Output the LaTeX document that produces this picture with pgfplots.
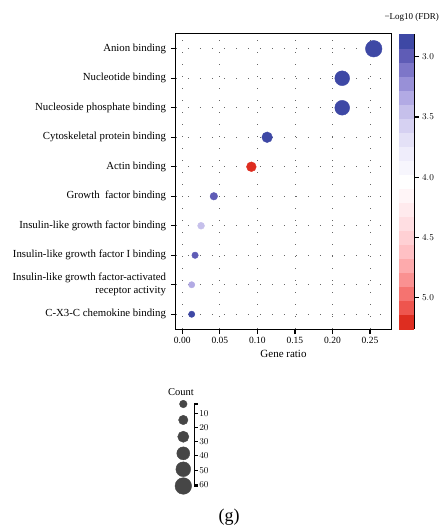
\documentclass[border=0pt]{standalone}
\usepackage{fontspec}
\setmainfont{Liberation Serif}
\usepackage{pgfplots}
\usepackage{pgfplotstable}
\pgfplotsset{compat=1.18}

% GO molecular function terms: row position, gene ratio, -log10(FDR), gene count
\pgfplotstableread{
y ratio fdr count
10 0.255 2.85 60
9 0.213 2.87 50
8 0.213 2.87 50
7 0.113 2.86 27
6 0.092 5.22 22
5 0.042 3.00 10
4 0.025 3.45 6
3 0.017 2.98 4
2 0.0125 3.33 3
1 0.0125 2.88 3
}\goterms

% bubble size key
\pgfplotstableread{
pos count
3.45 10
14.7 20
26.5 30
38.2 40
49.4 50
61.2 60
}\countkey

\pgfplotsset{colormap={fdrmap}{
  rgb255=(62,72,165) rgb255=(95,92,182) rgb255=(125,118,200) rgb255=(152,144,215)
  rgb255=(178,170,228) rgb255=(198,192,235) rgb255=(214,209,242) rgb255=(228,225,247)
  rgb255=(239,237,251) rgb255=(247,246,253) rgb255=(255,255,255) rgb255=(255,245,247)
  rgb255=(255,234,237) rgb255=(255,222,226) rgb255=(255,208,212) rgb255=(255,192,196)
  rgb255=(253,170,172) rgb255=(250,145,145) rgb255=(245,115,112) rgb255=(238,85,78)
  rgb255=(222,45,32)}}

\definecolor{keygray}{RGB}{70,70,70}

\begin{document}
\begin{tikzpicture}
\useasboundingbox (-176pt,-201pt) rectangle (266pt,329pt);
\begin{axis}[
  scale only axis, width=215pt, height=295pt,
  xmin=-0.0084, xmax=0.278, ymin=0.5, ymax=10.5,
  xtick={0,0.05,0.1,0.15,0.2,0.25},
  /pgf/number format/assume math mode=true,
  x tick label style={/pgf/number format/.cd, fixed, fixed zerofill, precision=2, /tikz/.cd, font=\fontsize{9.5}{10}\selectfont},
  ytick={1,...,10},
  yticklabels={C-X3-C chemokine binding,
    {Insulin-like growth factor-activated\\receptor activity},
    Insulin-like growth factor I binding,
    Insulin-like growth factor binding,
    Growth\ \ factor binding,
    Actin binding,
    Cytoskeletal protein binding,
    Nucleoside phosphate binding,
    Nucleotide binding,
    Anion binding},
  y tick label style={align=right, font=\fontsize{10.8}{13}\selectfont, xshift=-1.5pt},
  xtick pos=left, ytick pos=left,
  tick align=outside, major tick length=5pt,
  tick style={black, line width=1.2pt},
  axis line style={line width=1pt},
  grid=major,
  x grid style={black!60, line width=0.7pt, dash pattern=on 0.7pt off 11.3pt},
  y grid style={black!60, line width=0.7pt, dash pattern=on 0.7pt off 11.3pt},
  xlabel={Gene ratio},
  xlabel style={font=\fontsize{11}{12}\selectfont, yshift=1pt},
  colormap name=fdrmap,
  colormap access=piecewise constant,
  point meta min=2.81, point meta max=5.26,
  colorbar,
  colorbar style={
    at={(parent axis.north east)}, anchor=north west, xshift=-1pt,
    width=16pt,
    y dir=reverse,
    ytick={3,3.5,4,4.5,5},
    yticklabel style={/pgf/number format/.cd, fixed, fixed zerofill, precision=1, /tikz/.cd, font=\fontsize{9.5}{10}\selectfont},
    axis x line=none, axis y line*=right,
    axis line style={line width=1pt},
    tick align=outside, major tick length=4pt,
    tick style={black, line width=1.2pt},
  },
]
\addplot[scatter, only marks, mark=*, scatter src=explicit,
  scatter/use mapped color={draw=mapped color, fill=mapped color},
  visualization depends on={\thisrow{count} \as \cnt},
  scatter/@pre marker code/.append style={/tikz/mark size=2.9+0.09*\cnt}]
  table[x=ratio, y=y, meta=fdr] {\goterms};
\end{axis}

\node[anchor=west, font=\fontsize{9}{10}\selectfont] at (205pt,312pt) {−Log10 (FDR)};

% bubble size key
\begin{axis}[
  at={(18.3pt,-157pt)}, anchor=south east,
  scale only axis, width=20pt, height=82pt,
  xmin=-9, xmax=11, ymin=3.45, ymax=61.2, y dir=reverse,
  clip=false,
  axis x line=none, axis y line*=right,
  axis line style={line width=1pt},
  ytick={10,20,30,40,50,60},
  extra y ticks={3.45,61.2}, extra y tick labels={},
  tick align=outside, major tick length=3.5pt,
  tick style={black, line width=1.1pt},
  y tick label style={font=\fontsize{9.5}{10}\selectfont, xshift=-2pt},
  title={Count}, title style={font=\fontsize{10.5}{11}\selectfont, at={(0.33,1)}, yshift=-1pt},
]
\addplot[scatter, only marks, mark=*, point meta=explicit,
  scatter/use mapped color={draw=keygray, fill=keygray},
  visualization depends on={\thisrow{count} \as \cnt},
  scatter/@pre marker code/.append style={/tikz/mark size=2.9+0.09*\cnt}]
  table[x expr=0, y=pos, meta=count] {\countkey};
\end{axis}

\node[font=\fontsize{18}{20}\selectfont] at (53pt,-188pt) {(g)};
\end{tikzpicture}
\end{document}
